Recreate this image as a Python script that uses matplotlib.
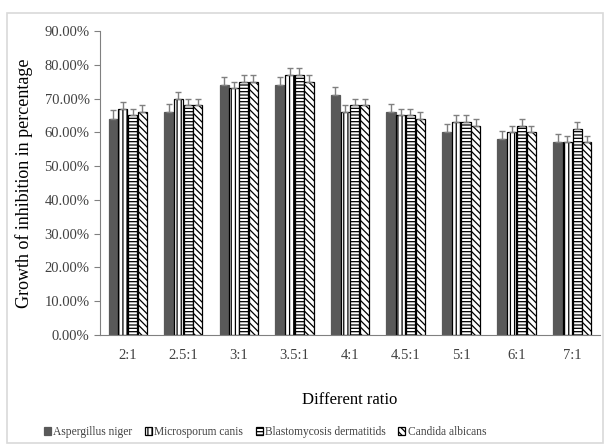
import matplotlib
matplotlib.use("Agg")
import matplotlib.pyplot as plt
import matplotlib.patches as patches
import numpy as np

# ratios on the x axis
ratios = ['2:1', '2.5:1', '3:1', '3.5:1', '4:1', '4.5:1', '5:1', '6:1', '7:1']

# growth inhibition (%) per organism
aspergillus = [64, 66, 74, 74, 71, 66, 60, 58, 57]
microsporum = [67, 70, 73, 77, 66, 65, 63, 60, 57]
blastomycosis = [65, 68, 75, 77, 68, 65, 63, 62, 61]
candida = [66, 68, 75, 75, 68, 64, 62, 60, 57]

# error bars (%)
err_aspergillus = [2.5, 2.5, 2.5, 2.5, 2.5, 2.5, 2.5, 2.5, 2.5]
err_microsporum = [2, 2, 2, 2, 2, 2, 2, 2, 2]
err_blastomycosis = [2, 2, 2, 2, 2, 2, 2, 2, 2]
err_candida = [2, 2, 2, 2, 2, 2, 2, 2, 2]

series_names = ['Aspergillus niger', 'Microsporum canis',
                'Blastomycosis dermatitids', 'Candida albicans']

plt.rcParams['font.family'] = ['Liberation Serif', 'DejaVu Serif']
plt.rcParams['hatch.linewidth'] = 0.9
text_color = '#404040'

fig = plt.figure(figsize=(6.1, 4.46), dpi=100)
ax = fig.add_axes([100/610, 1-335/446, 500/610, (335-31)/446])

# light frame round the whole chart
fig.patches.append(patches.Rectangle((7/610, 3/446), 1-14/610, 1-(13+3)/446,
                                     transform=fig.transFigure, fill=False,
                                     edgecolor='#d9d9d9', linewidth=1.2))

x = np.arange(len(ratios))
width = 0.165
step = 0.175

styles = [
    dict(color='#595959', edgecolor='#595959', hatch=None),
    dict(color='white', edgecolor='black', hatch='||||'),
    dict(color='white', edgecolor='black', hatch='-----'),
    dict(color='white', edgecolor='black', hatch='\\\\\\\\\\'),
]
values = [aspergillus, microsporum, blastomycosis, candida]
errors = [err_aspergillus, err_microsporum, err_blastomycosis, err_candida]

for k in range(4):
    st = styles[k]
    ax.bar(x + (k - 1.5) * step, values[k], width, color=st['color'],
           edgecolor=st['edgecolor'], hatch=st['hatch'], linewidth=0.9,
           label=series_names[k],
           yerr=[np.zeros(len(ratios)), errors[k]],
           error_kw=dict(ecolor='#808080', elinewidth=1, capsize=2.5, capthick=1))

ax.set_xlim(-0.5, len(ratios) - 0.5)
ax.set_ylim(0, 90)
ax.set_yticks(np.arange(0, 91, 10))
ax.set_yticklabels(['%.2f%%' % v for v in np.arange(0, 91, 10)],
                   fontsize=10.5, color=text_color)
ax.set_xticks(x)
ax.set_xticklabels(ratios, fontsize=10.5, color=text_color)
ax.tick_params(axis='x', length=0, pad=10)
ax.tick_params(axis='y', length=4, color='#808080', direction='out')

for side in ['top', 'right']:
    ax.spines[side].set_visible(False)
ax.spines['left'].set_color('#808080')
ax.spines['bottom'].set_color('#808080')

ax.set_ylabel('Growth of inhibition in percentage', fontsize=13, color='black', labelpad=8)
ax.set_xlabel('Different ratio', fontsize=12, color='black', labelpad=22)

fig.legend(loc='center', bbox_to_anchor=(265/610, 1-432/446), ncol=4, frameon=False,
           fontsize=8.3, handlelength=0.6, handleheight=0.6, handletextpad=0.2,
           columnspacing=1.1, labelcolor=text_color)

fig.savefig('out.png', dpi=100)
